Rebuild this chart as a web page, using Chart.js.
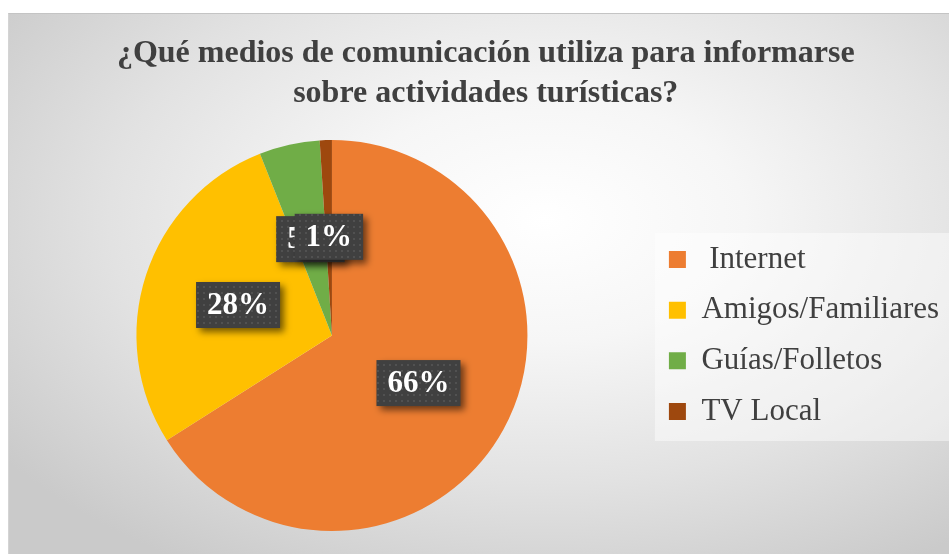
<!DOCTYPE html>
<html>
<head>
<meta charset="utf-8">
<script src="https://cdn.jsdelivr.net/npm/chart.js@4"></script>
<style>
  html, body { margin:0; padding:0; background:#fff; overflow:hidden; }
  #box {
    position:absolute; left:8px; top:13px; width:956px; height:541px;
    border-top:1px solid #c4c4c4; border-left:1px solid #d4d4d4;
    background: radial-gradient(ellipse 70% 75% at 56% 38%, #ffffff 0%, #f6f6f6 30%, #e2e2e2 65%, #cacaca 100%);
  }
  canvas { display:block; }
</style>
</head>
<body>
<div id="box"><canvas id="pie" width="956" height="541"></canvas></div>
<script>
// —————— DATA ——————
const categories = [' Internet', 'Amigos/Familiares ', 'Guías/Folletos', 'TV Local'];
const percents   = [66, 28, 5, 1];
const colors     = ['#ED7D31', '#FFC000', '#70AD47', '#9E480E'];
const titleLines = ['¿Qué medios de comunicación utiliza para informarse', 'sobre actividades turísticas?'];

const SERIF = '"Liberation Serif", "Times New Roman", serif';

// dotted fill for the value boxes
function dotPattern(ctx) {
  const c = document.createElement('canvas');
  c.width = 6; c.height = 6;
  const g = c.getContext('2d');
  g.fillStyle = '#404040'; g.fillRect(0, 0, 6, 6);
  g.fillStyle = '#515151'; g.fillRect(2, 2, 2, 2);
  return ctx.createPattern(c, 'repeat');
}

// —————— PLUGINS ——————
const legendBack = {
  id: 'legendBack',
  beforeDraw(chart) {
    const lg = chart.legend;
    if (!lg || !lg.legendHitBoxes.length) return;
    const hb = lg.legendHitBoxes;
    const top = Math.min(...hb.map(h => h.top));
    const bot = Math.max(...hb.map(h => h.top + h.height));
    const left = Math.min(...hb.map(h => h.left));
    const ctx = chart.ctx;
    ctx.save();
    ctx.fillStyle = 'rgba(255,255,255,0.45)';
    ctx.fillRect(left - 14, top - 11, chart.width - left + 14, bot - top + 25);
    ctx.restore();
  }
};

const valueBoxes = {
  id: 'valueBoxes',
  afterDatasetsDraw(chart) {
    const ctx = chart.ctx;
    const meta = chart.getDatasetMeta(0);
    const fill = dotPattern(ctx);
    ctx.save();
    ctx.font = 'bold 31px ' + SERIF;
    meta.data.forEach((arc, i) => {
      const mid = (arc.startAngle + arc.endAngle) / 2;
      const r = arc.outerRadius * 0.505;
      const x = arc.x + Math.cos(mid) * r;
      const y = arc.y + Math.sin(mid) * r;
      const txt = percents[i] + '%';
      const w = ctx.measureText(txt).width + 22;
      const h = 46;
      ctx.save();
      ctx.shadowColor = 'rgba(0,0,0,0.55)';
      ctx.shadowBlur = 7;
      ctx.shadowOffsetX = 4;
      ctx.shadowOffsetY = 4;
      ctx.fillStyle = fill;
      ctx.fillRect(x - w / 2, y - h / 2, w, h);
      ctx.restore();
      ctx.fillStyle = '#ffffff';
      ctx.textAlign = 'center';
      ctx.textBaseline = 'middle';
      ctx.fillText(txt, x, y + 1);
    });
    ctx.restore();
  }
};

// —————— CHART ——————
new Chart(document.getElementById('pie'), {
  type: 'pie',
  data: {
    labels: categories,
    datasets: [{
      data: percents,
      backgroundColor: colors,
      borderWidth: 0
    }]
  },
  options: {
    responsive: false,
    animation: false,
    layout: { padding: { left: 5.7, right: 8.2, top: 0, bottom: 24 } },
    plugins: {
      tooltip: { enabled: false },
      title: {
        display: true,
        text: titleLines,
        color: '#404040',
        font: { family: SERIF, size: 32, weight: 'bold', lineHeight: 1.25 },
        padding: { top: 20, bottom: 26 }
      },
      legend: {
        position: 'right',
        fullSize: false,
        labels: {
          color: '#404040',
          font: { family: SERIF, size: 31 },
          boxWidth: 17,
          boxHeight: 17,
          padding: 19.7
        }
      }
    }
  },
  plugins: [legendBack, valueBoxes]
});
</script>
</body>
</html>
